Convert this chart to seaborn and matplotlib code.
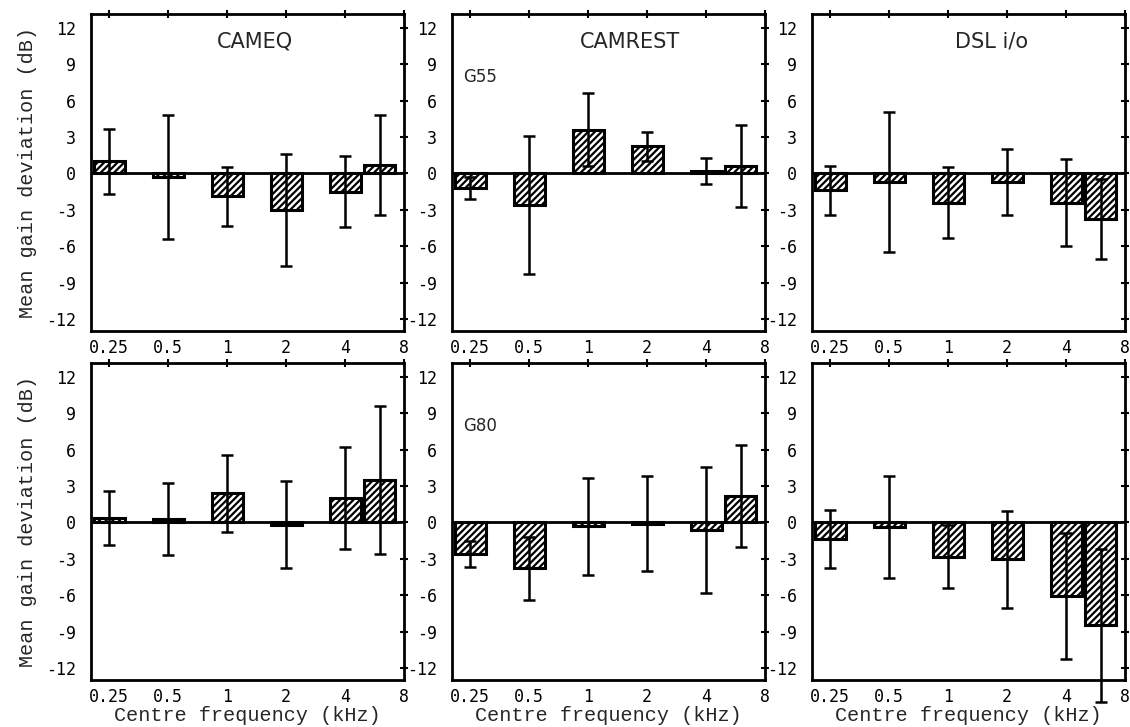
import numpy as np
import pandas as pd
import matplotlib
matplotlib.use('Agg')
import matplotlib.pyplot as plt
import seaborn as sns

# centre frequencies of the bars (the last band is drawn at ~6 kHz)
freqs_khz = [0.25, 0.5, 1, 2, 4, 6]
tick_khz = [0.25, 0.5, 1, 2, 4, 8]
tick_labels = ['0.25', '0.5', '1', '2', '4', '8']
y_ticks = [-12, -9, -6, -3, 0, 3, 6, 9, 12]

# G55 row: mean gain deviation (dB) and SD
cameq_g55_mean = [1.0, -0.3, -1.9, -3.0, -1.5, 0.7]
cameq_g55_sd = [2.7, 5.1, 2.4, 4.6, 2.95, 4.1]
camrest_g55_mean = [-1.2, -2.6, 3.6, 2.25, 0.2, 0.6]
camrest_g55_sd = [0.9, 5.7, 3.0, 1.2, 1.1, 3.4]
dsl_g55_mean = [-1.4, -0.7, -2.4, -0.7, -2.4, -3.8]
dsl_g55_sd = [2.0, 5.8, 2.9, 2.7, 3.6, 3.3]

# G80 row
cameq_g80_mean = [0.35, 0.3, 2.4, -0.2, 2.0, 3.5]
cameq_g80_sd = [2.2, 2.95, 3.2, 3.6, 4.2, 6.1]
camrest_g80_mean = [-2.6, -3.8, -0.3, -0.1, -0.6, 2.2]
camrest_g80_sd = [1.1, 2.6, 4.0, 3.9, 5.2, 4.2]
dsl_g80_mean = [-1.35, -0.4, -2.85, -3.05, -6.1, -8.5]
dsl_g80_sd = [2.4, 4.2, 2.6, 4.0, 5.2, 6.3]

sns.set_style('white')
plt.rcParams['font.family'] = ['DejaVu Sans Mono']
plt.rcParams['axes.unicode_minus'] = False
plt.rcParams['hatch.linewidth'] = 1.6

W, H = 1130, 727
fig = plt.figure(figsize=(W / 100, H / 100), dpi=100)

col_left = [91, 452, 812]
row_top = [14, 363]
pw, ph = 313, 317


def draw_panel(ax, mean, sd):
    pos = np.log2(freqs_khz)
    df = pd.DataFrame({'pos': pos, 'gain': mean})
    ax.axhline(0, color='black', lw=2, zorder=1)
    sns.barplot(data=df, x='pos', y='gain', native_scale=True, orient='x',
                width=0.9, color='white', edgecolor='black', linewidth=2.2,
                hatch='/////', errorbar=None, ax=ax, zorder=2)
    eb = ax.errorbar(pos, mean, yerr=sd, fmt='none', ecolor='black',
                     elinewidth=1.8, capsize=4.5, capthick=1.8, zorder=3)
    for a in list(eb[1]) + list(eb[2]):
        a.set_clip_on(False)
    ax.set_xlim(-2.31, 3.0)
    ax.set_ylim(-13, 13.15)
    ax.set_xticks(np.log2(tick_khz))
    ax.set_xticklabels(tick_labels)
    ax.set_yticks(y_ticks)
    ax.set_xlabel('')
    ax.set_ylabel('')
    ax.tick_params(direction='inout', length=6, width=1.5, top=True, right=True,
                   labelsize=12, color='black', labelcolor='black')
    ax.tick_params(axis='y', pad=8)
    ax.tick_params(axis='x', pad=2.5)
    for s in ax.spines.values():
        s.set_linewidth(2)
        s.set_color('black')


panels = [
    [(cameq_g55_mean, cameq_g55_sd), (camrest_g55_mean, camrest_g55_sd), (dsl_g55_mean, dsl_g55_sd)],
    [(cameq_g80_mean, cameq_g80_sd), (camrest_g80_mean, camrest_g80_sd), (dsl_g80_mean, dsl_g80_sd)],
]
titles = ['CAMEQ', 'CAMREST', 'DSL i/o']
title_x = [0.524, 0.569, 0.575]

for r in range(2):
    for c in range(3):
        ax = fig.add_axes([col_left[c] / W, 1 - (row_top[r] + ph) / H, pw / W, ph / H])
        mean, sd = panels[r][c]
        draw_panel(ax, mean, sd)
        if r == 0:
            ax.text(title_x[c], 0.912, titles[c], transform=ax.transAxes,
                    ha='center', va='center', fontsize=15, family='DejaVu Sans')
        if c == 1:
            ax.text(0.035, 0.80, 'G55' if r == 0 else 'G80', transform=ax.transAxes,
                    ha='left', va='center', fontsize=12, family='DejaVu Sans')
        if c == 0:
            ax.set_ylabel('Mean gain deviation (dB)', family='Liberation Mono',
                          fontsize=14.5, labelpad=6)
        if r == 1:
            ax.set_xlabel('Centre frequency (kHz)', family='Liberation Mono',
                          fontsize=14.5, labelpad=0)

fig.savefig('out.png', dpi=100)
